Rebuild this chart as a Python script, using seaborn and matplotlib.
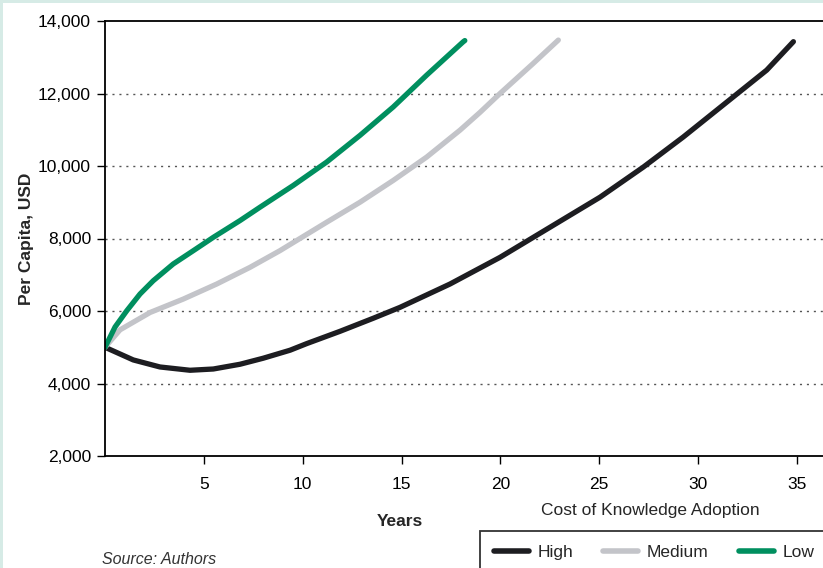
import matplotlib
matplotlib.use("Agg")
import matplotlib.pyplot as plt
from matplotlib.patches import Rectangle
import pandas as pd
import seaborn as sns

# values
high_years = [0, 1.43, 2.78, 4.3, 5.48, 6.83, 8.0, 9.36, 10.2, 11.89, 13.57, 14.92,
              17.45, 19.98, 22.51, 25.04, 27.23, 29.25, 31.78, 33.47, 34.82]
high_usd = [5000, 4650, 4456, 4365, 4400, 4531, 4697, 4918, 5100, 5440, 5800, 6100,
            6744, 7480, 8310, 9140, 9970, 10800, 11906, 12645, 13430]

medium_years = [0, 0.76, 2.28, 3.96, 5.65, 7.33, 8.85, 11.21, 12.9, 14.58, 16.27,
                17.96, 18.97, 19.98, 21.66, 22.93]
medium_usd = [5000, 5480, 5959, 6329, 6744, 7203, 7665, 8448, 9001, 9602, 10246,
              10990, 11480, 12000, 12830, 13474]

low_years = [0, 0.51, 1.1, 1.77, 2.44, 3.45, 4.47, 5.48, 6.83, 7.84, 9.52, 11.21,
             12.9, 14.58, 16.27, 18.12, 18.2]
low_usd = [5000, 5560, 6006, 6468, 6835, 7297, 7665, 8033, 8495, 8863, 9463, 10108,
           10846, 11629, 12506, 13427, 13460]

levels = ["High", "Medium", "Low"]
colors = ["#1d1d21", "#c3c4c9", "#008f5f"]

df = pd.concat([
    pd.DataFrame({"Years": high_years, "USD": high_usd, "Cost": "High"}),
    pd.DataFrame({"Years": medium_years, "USD": medium_usd, "Cost": "Medium"}),
    pd.DataFrame({"Years": low_years, "USD": low_usd, "Cost": "Low"}),
])

sns.set_style("ticks")
plt.rcParams["font.family"] = ["Liberation Sans", "DejaVu Sans"]

fig = plt.figure(figsize=(8.23, 5.68), dpi=100)
fig.patch.set_facecolor("#d6ebe6")
fig.patches.append(Rectangle((3 / 823, 0), 1, 1 - 3 / 568, transform=fig.transFigure,
                             facecolor="white", edgecolor="none", zorder=-10))

ax = fig.add_axes([105 / 823, 1 - 456 / 568, 718 / 823, 435 / 568])
sns.lineplot(data=df, x="Years", y="USD", hue="Cost", hue_order=levels,
             palette=colors, linewidth=3.8, sort=False, ax=ax,
             solid_capstyle="round", solid_joinstyle="round")

ax.set_xlim(0, 718 / 19.77)
ax.set_ylim(2000, 14000)
ax.set_xticks([5, 10, 15, 20, 25, 30, 35])
ax.set_yticks(range(2000, 14001, 2000))
ax.yaxis.set_major_formatter(matplotlib.ticker.StrMethodFormatter("{x:,.0f}"))
ax.tick_params(labelsize=12.5, length=6, width=1, colors="black", pad=4)
ax.tick_params(axis="x", pad=9)
for y in range(4000, 12001, 2000):
    ax.axhline(y, color="#555555", linestyle=(0, (1.5, 3.5)), linewidth=1, zorder=0)
for s in ["left", "bottom", "top"]:
    ax.spines[s].set_linewidth(1.3)
    ax.spines[s].set_color("black")
ax.spines["right"].set_visible(False)

ax.set_xlabel("")
ax.set_ylabel("Per Capita, USD", fontsize=12.5, fontweight="bold", labelpad=3)
fig.text(400 / 823, 1 - 521 / 568, "Years", fontsize=12.5, fontweight="bold",
         ha="center", va="center")
fig.text(650 / 823, 1 - 510 / 568, "Cost of Knowledge Adoption", fontsize=12.5,
         ha="center", va="center")
fig.text(102 / 823, 1 - 560 / 568, "Source: Authors", fontsize=11.5,
         style="italic", color="#333333", ha="left", va="center")

handles, labels = ax.get_legend_handles_labels()
ax.legend_.remove()
leg = fig.legend(handles, labels, ncol=3, loc="upper left",
                 bbox_to_anchor=(480 / 823, 1 - 531 / 568), frameon=True,
                 fancybox=False, edgecolor="black", fontsize=12.5,
                 handlelength=2.0, handletextpad=0.5, columnspacing=1.75,
                 borderpad=0.8, borderaxespad=0)
leg.get_frame().set_linewidth(1.3)
for line in leg.get_lines():
    line.set_linewidth(4)
    line.set_solid_capstyle("round")

fig.savefig("out.png", dpi=100)
